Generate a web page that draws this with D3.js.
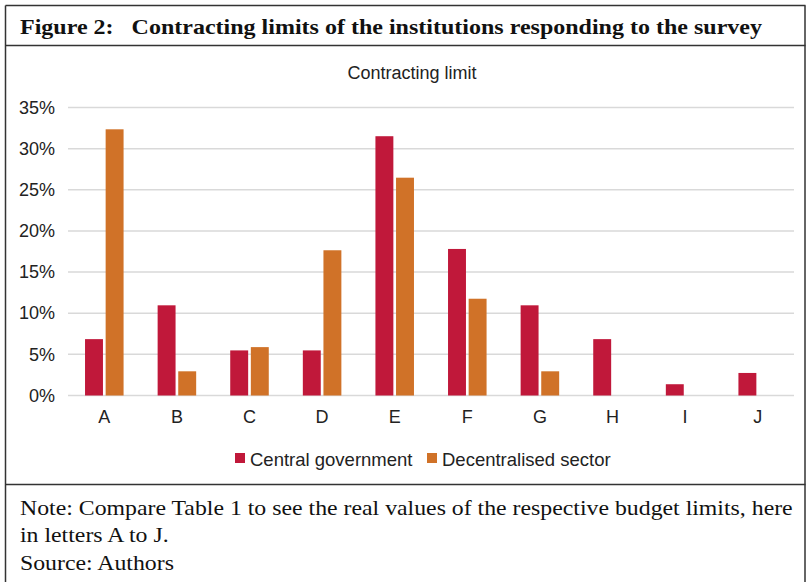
<!DOCTYPE html>
<html>
<head>
<meta charset="utf-8">
<script src="https://cdn.jsdelivr.net/npm/d3@7"></script>
<style>
  html, body { margin: 0; padding: 0; background: #fff; }
  svg { display: block; }
</style>
</head>
<body>
<svg id="chart" width="806" height="582"></svg>
<script>
const categories = ["A","B","C","D","E","F","G","H","I","J"];
const seriesNames = ["Central government","Decentralised sector"];
const centralGov = [6.85,10.96,5.48,5.48,31.51,17.81,10.96,6.85,1.37,2.74];
const decentralised = [32.35,2.94,5.88,17.65,26.47,11.76,2.94,0,0,0];
const yTicks = [0,5,10,15,20,25,30,35];
const colors = ["#C0183A","#D07228"];

const svg = d3.select("#chart");
const serif = "'Liberation Serif','Times New Roman',Times,serif";
const sans = "'Liberation Sans',Arial,sans-serif";

// Frame
const frame = svg.append("g").attr("stroke","#333").attr("stroke-width",1.5).attr("fill","none");
frame.append("line").attr("x1",5.5).attr("x2",805.5).attr("y1",5.5).attr("y2",5.5);
frame.append("line").attr("x1",5.5).attr("x2",5.5).attr("y1",5.5).attr("y2",582);
frame.append("line").attr("x1",805).attr("x2",805).attr("y1",5.5).attr("y2",582);
frame.append("line").attr("x1",5.5).attr("x2",805.5).attr("y1",45.5).attr("y2",45.5);
frame.append("line").attr("x1",5.5).attr("x2",805.5).attr("y1",484.5).attr("y2",484.5);

// Title
const title = svg.append("text").attr("x",20).attr("y",34)
  .attr("font-family",serif).attr("font-weight","bold").attr("font-size",22)
  .attr("fill","#111").attr("xml:space","preserve")
  .text("Figure 2:   Contracting limits of the institutions responding to the survey");
title.attr("textLength",742).attr("lengthAdjust","spacingAndGlyphs");

// Plot
const margin = {left:68, right:794, top:107.5, bottom:395.5};
const x = d3.scaleBand().domain(categories).range([margin.left, margin.right]).paddingInner(0).paddingOuter(0);
const x1 = d3.scaleBand().domain(seriesNames).range([-20.3, 20.3]).paddingInner(0.13).paddingOuter(0.05);
const y = d3.scaleLinear().domain([0,35]).range([margin.bottom, margin.top]);

svg.append("text").attr("x",412).attr("y",79).attr("text-anchor","middle")
  .attr("font-family",sans).attr("font-size",18).attr("fill","#222").text("Contracting limit");

// gridlines
svg.append("g").selectAll("line").data(yTicks).join("line")
  .attr("x1",margin.left).attr("x2",margin.right)
  .attr("y1",d=>y(d)).attr("y2",d=>y(d))
  .attr("stroke","#d9d9d9").attr("stroke-width",1.5);

// y axis labels
const yAxis = d3.axisLeft(y).tickValues(yTicks).tickFormat(d=>d+"%").tickSize(0).tickPadding(0);
const yg = svg.append("g").attr("transform",`translate(${55},0)`).call(yAxis);
yg.select(".domain").remove();
yg.selectAll("text").attr("font-family",sans).attr("font-size",18).attr("fill","#222");

// x axis labels
const xAxis = d3.axisBottom(x).tickSize(0).tickPadding(0);
const xg = svg.append("g").attr("transform",`translate(0,${410})`).call(xAxis);
xg.select(".domain").remove();
xg.selectAll("text").attr("font-family",sans).attr("font-size",18).attr("fill","#222");

// bars
const data = categories.map((c,i)=>({cat:c, vals:[centralGov[i], decentralised[i]]}));
const groups = svg.append("g").selectAll("g").data(data).join("g")
  .attr("transform",d=>`translate(${x(d.cat)+x.bandwidth()/2},0)`);
groups.selectAll("rect").data(d=>d.vals.map((v,j)=>({s:seriesNames[j], v, j})).filter(e=>e.v>0)).join("rect")
  .attr("x",d=>x1(d.s)).attr("width",x1.bandwidth())
  .attr("y",d=>y(d.v)).attr("height",d=>y(0)-y(d.v))
  .attr("fill",d=>colors[d.j]);

// legend
const legend = svg.append("g");
const legendItems = [{name:seriesNames[0], x:235},{name:seriesNames[1], x:427}];
legendItems.forEach((it,i)=>{
  legend.append("rect").attr("x",it.x).attr("y",453).attr("width",10).attr("height",10).attr("fill",colors[i]);
  legend.append("text").attr("x",it.x+15).attr("y",465.5).attr("font-family",sans).attr("font-size",18.5)
    .attr("fill","#222").text(it.name);
});

// notes
const notes = ["Note: Compare Table 1 to see the real values of the respective budget limits, here","in letters A to J.","Source: Authors"];
const noteG = svg.append("g");
const nt = noteG.selectAll("text").data(notes).join("text")
  .attr("x",20).attr("y",(d,i)=>515+i*27.5)
  .attr("font-family",serif).attr("font-size",22).attr("fill","#111")
  .text(d=>d);
// horizontally condense to match original width of first line
const w0 = nt.nodes()[0].getComputedTextLength();
const sx = 773/w0;
nt.attr("transform",(d,i)=>`translate(${20*(1-sx)},0) scale(${sx},1)`);
</script>
</body>
</html>
